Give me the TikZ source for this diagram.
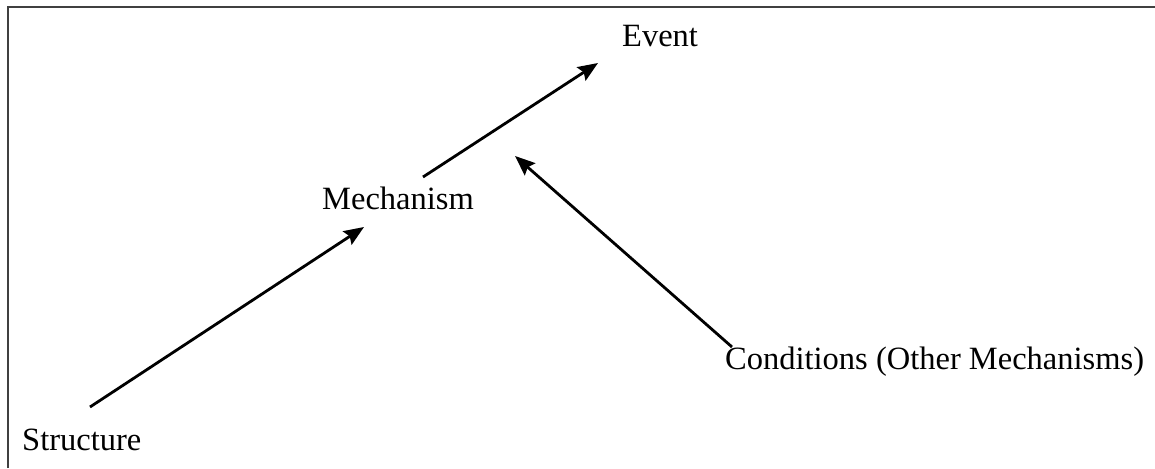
\documentclass[tikz,border=0pt]{standalone}
\usepackage{fontspec}
\setmainfont{Liberation Serif}
\usetikzlibrary{arrows.meta}
\begin{document}
\begin{tikzpicture}[x=1pt,y=-1pt,
  lbl/.style={anchor=base west,inner sep=0pt,font=\fontsize{32.5}{39}\selectfont},
  conn/.style={line width=2.8pt,-{Stealth[length=20pt,width=16pt,inset=3pt]}},
  frame/.style={line width=2pt,draw=black!75}]
\useasboundingbox (0,0) rectangle (1155,468);
\draw[frame] (8,468) -- (8,7) -- (1155,7);
\node[lbl] (structure) at (22,450) {Structure};
\node[lbl] (mechanism) at (322,209) {Mechanism};
\node[lbl] (event) at (622,47) {Event};
\node[lbl] (conditions) at (725,369) {Conditions (Other Mechanisms)};
\coordinate (s1) at (90,407);
\coordinate (s2) at (364,227);
\coordinate (m1) at (423,177);
\coordinate (m2) at (598,63);
\coordinate (c1) at (732,347);
\coordinate (c2) at (515,156);
\draw[conn] (s1) -- (s2);
\draw[conn] (m1) -- (m2);
\draw[conn] (c1) -- (c2);
\end{tikzpicture}
\end{document}
